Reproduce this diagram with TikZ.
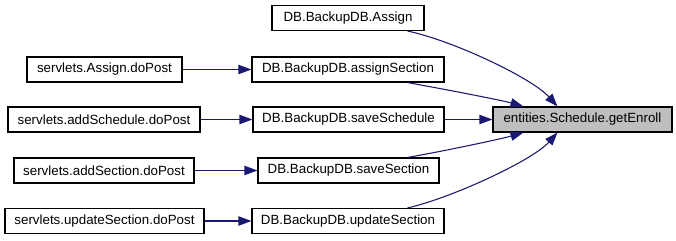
\documentclass[tikz,border=0pt]{standalone}
\usepackage{fontspec}
\setmainfont{Liberation Sans}
\usetikzlibrary{arrows.meta,calc}
\definecolor{edgeblue}{HTML}{191970}
\definecolor{focusgray}{HTML}{BFBFBF}
\tikzset{
  fnbox/.style={draw=black, line width=0.8pt, fill=white, inner sep=0pt,
    minimum height=25*0.75pt, font=\fontsize{10}{12}\selectfont},
  focusbox/.style={fnbox, fill=focusgray},
  callarrow/.style={draw=edgeblue, line width=0.8pt,
    -{Triangle[length=9.75pt,width=7pt]}}
}
\begin{document}
\begin{tikzpicture}[x=0.75pt,y=-0.75pt]
\useasboundingbox (0,0) rectangle (676,240);

% callees in the middle column
\node[fnbox, minimum width=152*0.75pt] (assign)     at (348,18)    {DB.BackupDB.Assign};
\node[fnbox, minimum width=192*0.75pt] (assignsec)  at (348,69.5)  {DB.BackupDB.assignSection};
\node[fnbox, minimum width=191*0.75pt] (savesched)  at (348.5,119.5) {DB.BackupDB.saveSchedule};
\node[fnbox, minimum width=181*0.75pt] (savesec)    at (348.5,170.5) {DB.BackupDB.saveSection};
\node[fnbox, minimum width=192*0.75pt] (updsec)     at (348,221)   {DB.BackupDB.updateSection};

% servlet callers on the left
\node[fnbox, minimum width=155*0.75pt] (assignpost) at (104.5,69.5) {servlets.Assign.doPost};
\node[fnbox, minimum width=192*0.75pt] (schedpost)  at (104,119.5) {servlets.addSchedule.doPost};
\node[fnbox, minimum width=180*0.75pt] (secpost)    at (104,170.5) {servlets.addSection.doPost};
\node[fnbox, minimum width=199*0.75pt] (updpost)    at (104.5,221) {servlets.updateSection.doPost};

% the function being documented
\node[focusbox, minimum width=179*0.75pt] (enroll) at (582.5,119.5) {entities.Schedule.getEnroll};

% servlet -> DB calls
\draw[callarrow] (assignpost.east) -- (assignsec.west);
\draw[callarrow] (schedpost.east) -- (savesched.west);
\draw[callarrow] (secpost.east) -- (savesec.west);
\draw[callarrow] (updpost.east) -- (updsec.west);

% DB -> getEnroll calls
\draw[callarrow] ($(assign.south east)+(-17,0)$)
  .. controls ($(assign.south east)+(30,10)$) and ($(enroll.north west)+(40,-28)$)
  .. ($(enroll.north west)+(65,0)$);
\draw[callarrow] ($(assignsec.south west)+(156,0)$)
  .. controls ($(assignsec.south west)+(200,8)$) and ($(enroll.north west)+(10,-6)$)
  .. ($(enroll.north west)+(31,0)$);
\draw[callarrow] (savesched.east) -- (enroll.west);
\draw[callarrow] ($(savesec.north west)+(150,0)$)
  .. controls ($(savesec.north west)+(195,-8)$) and ($(enroll.south west)+(10,6)$)
  .. ($(enroll.south west)+(31,0)$);
\draw[callarrow] ($(updsec.north west)+(156,0)$)
  .. controls ($(updsec.north west)+(200,-10)$) and ($(enroll.south west)+(40,28)$)
  .. ($(enroll.south west)+(65,0)$);
\end{tikzpicture}
\end{document}
